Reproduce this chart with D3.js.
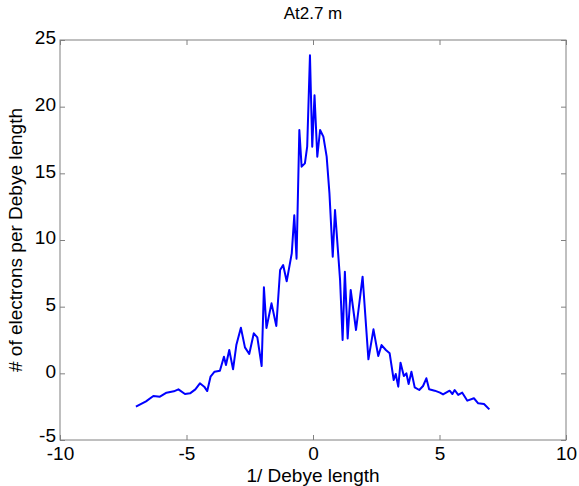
<!DOCTYPE html>
<html>
<head>
<meta charset="utf-8">
<script src="https://cdn.jsdelivr.net/npm/d3@7"></script>
<style>
  body { margin: 0; background: #fff; }
  svg text { font-family: "Liberation Sans", Arial, sans-serif; fill: #000; }
</style>
</head>
<body>
<div id="chart"></div>
<script>
// data
const xVals = [-7.0, -6.6, -6.31, -6.05, -5.79, -5.5, -5.32, -5.06, -4.86, -4.65, -4.47, -4.3, -4.18, -4.05, -3.89,
  -3.68, -3.52, -3.44, -3.31, -3.16, -3.03, -2.85, -2.69, -2.52, -2.34, -2.2, -2.03, -1.94, -1.84, -1.64, -1.45,
  -1.3, -1.18, -1.04, -0.84, -0.74, -0.65, -0.54, -0.45, -0.32, -0.23, -0.12, -0.03, 0.06, 0.17, 0.28, 0.41, 0.54,
  0.65, 0.78, 0.87, 1.07, 1.17, 1.26, 1.37, 1.49, 1.7, 1.96, 2.19, 2.39, 2.58, 2.71, 2.88, 3.03, 3.19, 3.27, 3.37,
  3.46, 3.59, 3.69, 3.78, 3.89, 4.02, 4.2, 4.35, 4.48, 4.59, 4.81, 5.02, 5.14, 5.4, 5.51, 5.6, 5.74, 5.9, 6.1,
  6.36, 6.53, 6.76, 6.97];
const yVals = [-2.5, -2.1, -1.7, -1.75, -1.45, -1.35, -1.2, -1.55, -1.5, -1.2, -0.75, -1.0, -1.33, -0.25, 0.12,
  0.2, 1.25, 0.62, 1.75, 0.3, 2.12, 3.42, 1.95, 1.45, 3.0, 2.7, 0.55, 6.45, 3.4, 5.25, 3.55,
  7.75, 8.12, 6.9, 9.0, 11.85, 8.6, 18.25, 15.5, 15.75, 17.0, 23.85, 17.0, 20.85, 16.25, 18.25, 17.75, 16.25,
  13.5, 8.75, 12.25, 7.0, 2.5, 7.62, 2.62, 6.25, 3.25, 7.25, 1.05, 3.3, 1.3, 2.12, 1.75, 1.5, -0.5, -0.05, -1.0,
  0.8, -0.2, 0.0, -0.8, 0.12, -1.05, -1.25, -0.95, -0.37, -1.2, -1.3, -1.45, -1.58, -1.3, -1.55, -1.25, -1.62, -1.45, -2.05,
  -1.87, -2.25, -2.3, -2.7];
const xTicks = [-10, -5, 0, 5, 10];
const yTicks = [-5, 0, 5, 10, 15, 20, 25];
const titleText = 'At2.7 m';
const xLabel = '1/ Debye length';
const yLabel = '# of electrons per Debye length';

const width = 579, height = 486;
const margin = { top: 40, right: 13, bottom: 46, left: 60 };

const svg = d3.select('#chart').append('svg')
  .attr('width', width)
  .attr('height', height);

const x = d3.scaleLinear().domain([-10, 10]).range([margin.left, width - margin.right]);
const y = d3.scaleLinear().domain([-5, 25]).range([height - margin.bottom, margin.top]);

const axisColor = '#808080';
const tickLen = 5;
const fmt = d => String(d); // plain hyphen minus like the original

// box
svg.append('rect')
  .attr('x', x(-10)).attr('y', y(25))
  .attr('width', x(10) - x(-10)).attr('height', y(-5) - y(25))
  .attr('fill', 'none').attr('stroke', axisColor).attr('stroke-width', 1);

// axes (inward ticks, mirrored)
function styleAxis(g) {
  g.select('.domain').remove();
  g.selectAll('.tick line').attr('stroke', axisColor);
  g.selectAll('.tick text').style('font-size', '19px').attr('fill', '#000');
}

svg.append('g')
  .attr('transform', `translate(0,${y(-5)})`)
  .call(d3.axisBottom(x).tickValues(xTicks).tickFormat(fmt).tickSizeInner(-tickLen).tickSizeOuter(0).tickPadding(3))
  .call(styleAxis)
  .selectAll('.tick text').attr('dy', '0.9em');

svg.append('g')
  .attr('transform', `translate(0,${y(25)})`)
  .call(d3.axisTop(x).tickValues(xTicks).tickSizeInner(-tickLen).tickSizeOuter(0).tickFormat(''))
  .call(styleAxis);

svg.append('g')
  .attr('transform', `translate(${x(-10)},0)`)
  .call(d3.axisLeft(y).tickValues(yTicks).tickFormat(fmt).tickSizeInner(-tickLen).tickSizeOuter(0).tickPadding(4))
  .call(styleAxis)
  .selectAll('.tick text').attr('dy', d => d === -5 ? '0.1em' : '0.2em');

svg.append('g')
  .attr('transform', `translate(${x(10)},0)`)
  .call(d3.axisRight(y).tickValues(yTicks).tickSizeInner(-tickLen).tickSizeOuter(0).tickFormat(''))
  .call(styleAxis);

// curve
const pts = xVals.map((v, i) => [v, yVals[i]]);
const line = d3.line().x(d => x(d[0])).y(d => y(d[1]));
svg.append('path')
  .datum(pts)
  .attr('d', line)
  .attr('fill', 'none')
  .attr('stroke', '#0000ff')
  .attr('stroke-width', 2)
  .attr('stroke-linejoin', 'round');

// title and labels
svg.append('text')
  .attr('x', x(0)).attr('y', 19)
  .attr('text-anchor', 'middle')
  .style('font-size', '17px')
  .text(titleText);

svg.append('text')
  .attr('x', x(0)).attr('y', 482)
  .attr('text-anchor', 'middle')
  .style('font-size', '19px')
  .text(xLabel);

svg.append('text')
  .attr('transform', `translate(22,${(y(25) + y(-5)) / 2}) rotate(-90)`)
  .attr('text-anchor', 'middle')
  .style('font-size', '19px')
  .text(yLabel);
</script>
</body>
</html>
